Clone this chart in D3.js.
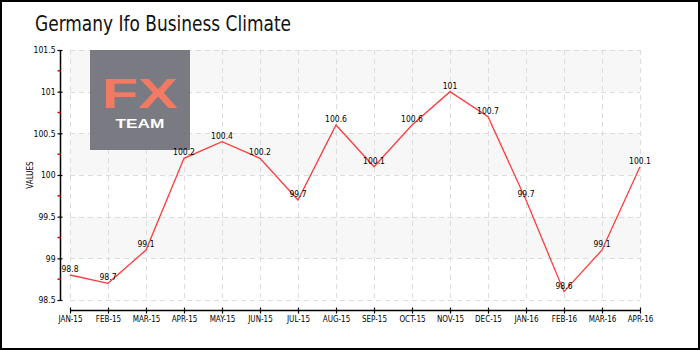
<!DOCTYPE html>
<html>
<head>
<meta charset="utf-8">
<script src="https://cdn.jsdelivr.net/npm/d3@7"></script>
<style>
  html, body { margin: 0; padding: 0; background: #fff; }
  svg { display: block; }
  text { font-family: "DejaVu Sans Condensed", "DejaVu Sans", sans-serif; }
</style>
</head>
<body>
<svg id="chart" width="700" height="350"></svg>
<script>
const categories = ["JAN-15","FEB-15","MAR-15","APR-15","MAY-15","JUN-15","JUL-15","AUG-15","SEP-15","OCT-15","NOV-15","DEC-15","JAN-16","FEB-16","MAR-16","APR-16"];
const values = [98.8, 98.7, 99.1, 100.2, 100.4, 100.2, 99.7, 100.6, 100.1, 100.6, 101, 100.7, 99.7, 98.6, 99.1, 100.1];
const yTicks = [98.5, 99, 99.5, 100, 100.5, 101, 101.5];
const yMinorTicks = [98.75, 99.25, 99.75, 100.25, 100.75, 101.25];
const title = "Germany Ifo Business Climate";
const yTitle = "VALUES";

const svg = d3.select("#chart");
const W = 700, H = 350;

const x = d3.scalePoint().domain(categories).range([70, 640]);
const y = d3.scaleLinear().domain([98.5, 101.5]).range([300, 50]);

// outer border
svg.append("rect").attr("x", 1).attr("y", 1).attr("width", W - 2).attr("height", H - 2)
  .attr("fill", "#fff").attr("stroke", "#000").attr("stroke-width", 2);

// title
svg.append("text").attr("x", 35).attr("y", 31).text(title)
  .attr("font-size", 22).attr("fill", "#111")
  .attr("textLength", 256).attr("lengthAdjust", "spacingAndGlyphs");

// bands
const bandPairs = [[99, 99.5], [100, 100.5], [101, 101.5]];
svg.append("g").selectAll("rect").data(bandPairs).join("rect")
  .attr("x", x(categories[0])).attr("width", x(categories[categories.length - 1]) - x(categories[0]))
  .attr("y", d => y(d[1])).attr("height", d => y(d[0]) - y(d[1]))
  .attr("fill", "#f7f7f7");

// grid
const grid = svg.append("g").attr("stroke", "#dcdcdc").attr("stroke-dasharray", "5,4").attr("stroke-width", 1);
grid.selectAll("line.h").data(yTicks).join("line").attr("class", "h")
  .attr("x1", x(categories[0])).attr("x2", x(categories[categories.length - 1]))
  .attr("y1", d => Math.round(y(d)) + 0.5).attr("y2", d => Math.round(y(d)) + 0.5);
grid.selectAll("line.v").data(categories).join("line").attr("class", "v")
  .attr("x1", d => Math.round(x(d)) + 0.5).attr("x2", d => Math.round(x(d)) + 0.5)
  .attr("y1", y(101.5)).attr("y2", y(98.5));

// logo
const logo = svg.append("g");
logo.append("rect").attr("x", 90).attr("y", 50).attr("width", 100).attr("height", 100)
  .attr("fill", "#75757d").attr("fill-opacity", 0.96);
logo.append("text").attr("x", 140).attr("y", 108).attr("text-anchor", "middle")
  .style("font-family", "'Liberation Sans', 'DejaVu Sans', sans-serif").attr("font-weight", "bold")
  .attr("font-size", 42).attr("fill", "#f07a62")
  .attr("textLength", 76).attr("lengthAdjust", "spacingAndGlyphs").text("FX");
logo.append("text").attr("x", 140).attr("y", 128).attr("text-anchor", "middle")
  .style("font-family", "'Liberation Sans', 'DejaVu Sans', sans-serif").attr("font-weight", "bold")
  .attr("font-size", 12).attr("fill", "#fff")
  .attr("textLength", 49).attr("lengthAdjust", "spacingAndGlyphs").text("TEAM");

// y axis
const yAxisG = svg.append("g").attr("transform", "translate(60.5,0)");
yAxisG.call(d3.axisLeft(y).tickValues(yTicks).tickSize(3).tickFormat(d3.format("")));
yAxisG.select(".domain").attr("stroke", "#000").attr("stroke-width", 1.5).attr("d", `M0,${y(101.5)}V${y(98.5)}`);
yAxisG.selectAll(".tick line").attr("x1", -3).attr("x2", 2).attr("stroke", "#000").attr("stroke-width", 1.2);
yAxisG.selectAll(".tick text").attr("x", -5).attr("font-size", 8.5).attr("fill", "#000")
  .style("font-family", "'DejaVu Sans Condensed', sans-serif");
yAxisG.selectAll("line.minor").data(yMinorTicks).join("line").attr("class", "minor")
  .attr("x1", -3).attr("x2", 0).attr("y1", d => y(d)).attr("y2", d => y(d))
  .attr("stroke", "#e00000").attr("stroke-width", 1.5);

// y title
svg.append("text").attr("transform", `translate(33,${y(100)}) rotate(-90)`)
  .attr("text-anchor", "middle").attr("font-size", 8).attr("fill", "#000").text(yTitle);

// x axis
const xAxisG = svg.append("g").attr("transform", "translate(0,310.5)");
xAxisG.call(d3.axisBottom(x).tickSize(0));
xAxisG.select(".domain").attr("stroke", "#000").attr("stroke-width", 1.5)
  .attr("d", `M${x(categories[0])},0H${x(categories[categories.length - 1])}`);
xAxisG.selectAll(".tick line").attr("y1", -3).attr("y2", 3).attr("stroke", "#000").attr("stroke-width", 1.2);
xAxisG.selectAll(".tick text").attr("y", 6).attr("dy", "0.71em").attr("font-size", 8).attr("fill", "#000")
  .style("font-family", "'DejaVu Sans Condensed', sans-serif");

// line
const line = d3.line().x((d, i) => x(categories[i])).y(d => y(d));
svg.append("path").datum(values).attr("d", line)
  .attr("fill", "none").attr("stroke", "#ff3b3b").attr("stroke-width", 1.3);

// labels
svg.append("g").selectAll("text").data(values).join("text")
  .attr("x", (d, i) => x(categories[i])).attr("y", d => y(d) - 3)
  .attr("text-anchor", "middle").attr("font-size", 8.5).attr("fill", "#000")
  .text(d => d);
</script>
</body>
</html>
